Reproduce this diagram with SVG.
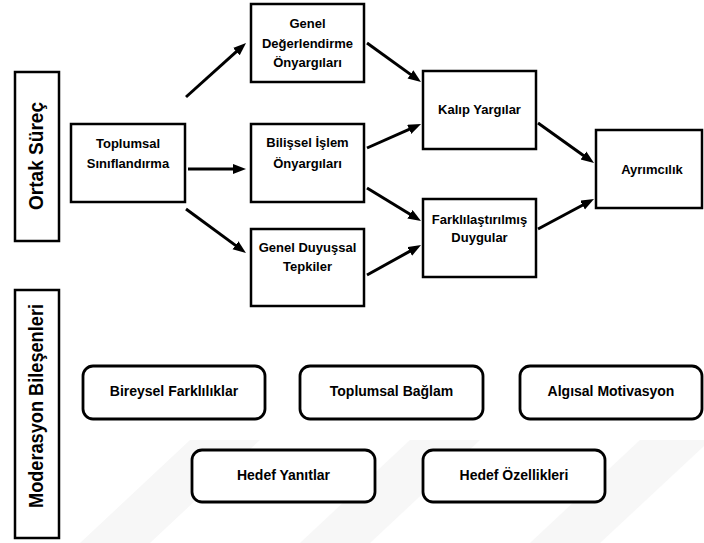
<svg xmlns="http://www.w3.org/2000/svg" width="704" height="543" viewBox="0 0 704 543">
<style>
.box{fill:#fff;stroke:#000;stroke-width:2.5}
.rbox{fill:#fff;stroke:#000;stroke-width:2.8}
.t{font-family:"Liberation Sans",Arial,sans-serif;font-weight:bold;font-size:13px;fill:#000;text-anchor:middle}
.tb{font-family:"Liberation Sans",Arial,sans-serif;font-weight:bold;font-size:14px;fill:#000;text-anchor:middle}
.side{font-family:"Liberation Sans",Arial,sans-serif;font-weight:bold;font-size:21px;fill:#000;text-anchor:middle}
.arr{fill:none;stroke:#000;stroke-width:3;marker-end:url(#ah)}
.wm{fill:#f7f7f7}
</style>
<defs>
<marker id="ah" markerUnits="userSpaceOnUse" markerWidth="13" markerHeight="11" refX="3" refY="5" orient="auto">
<path d="M0,0 L13,5 L0,10 z" fill="#000"/>
</marker>
</defs>
<rect width="704" height="543" fill="#fff"/>
<g id="watermark">
<polygon class="wm" points="80,543 150,543 260,440 190,440"/>
<polygon class="wm" points="300,543 370,543 480,440 410,440"/>
<polygon class="wm" points="530,543 600,543 704,446 704,440 640,440"/>
</g>
<g id="ortak">
<rect class="box" x="15" y="72" width="44" height="169"/>
<text class="side" transform="translate(43,156) rotate(-90)" textLength="108" lengthAdjust="spacingAndGlyphs">Ortak Süreç</text>
</g>
<g id="moderasyon">
<rect class="box" x="15" y="290" width="44" height="248"/>
<text class="side" transform="translate(43,406) rotate(-90)" textLength="204" lengthAdjust="spacingAndGlyphs">Moderasyon Bileşenleri</text>
</g>
<g id="toplumsal">
<rect class="box" x="71" y="124" width="114" height="78"/>
<text class="t" x="128" y="148">Toplumsal</text>
<text class="t" x="128" y="168">Sınıflandırma</text>
</g>
<g id="genel-degerlendirme">
<rect class="box" x="251" y="4" width="113" height="78"/>
<text class="t" x="307.5" y="28">Genel</text>
<text class="t" x="307.5" y="48">Değerlendirme</text>
<text class="t" x="307.5" y="67">Önyargıları</text>
</g>
<g id="bilissel">
<rect class="box" x="251" y="124" width="113" height="78"/>
<text class="t" x="307.5" y="147">Bilişsel İşlem</text>
<text class="t" x="307.5" y="168">Önyargıları</text>
</g>
<g id="genel-duyussal">
<rect class="box" x="251" y="229" width="113" height="77"/>
<text class="t" x="307.5" y="252">Genel Duyuşsal</text>
<text class="t" x="307.5" y="271">Tepkiler</text>
</g>
<g id="kalip">
<rect class="box" x="423" y="71" width="113" height="78"/>
<text class="t" x="479.5" y="114">Kalıp Yargılar</text>
</g>
<g id="farklilastirilmis">
<rect class="box" x="423" y="199" width="113" height="78"/>
<text class="t" x="479.5" y="224">Farklılaştırılmış</text>
<text class="t" x="479.5" y="242">Duygular</text>
</g>
<g id="ayrimcilik">
<rect class="box" x="596" y="130" width="106" height="78"/>
<text class="t" x="652" y="174">Ayrımcılık</text>
</g>
<g id="bireysel">
<rect class="rbox" x="83" y="366" width="182" height="53" rx="10"/>
<text class="tb" x="174" y="396">Bireysel Farklılıklar</text>
</g>
<g id="toplumsal-baglam">
<rect class="rbox" x="300" y="366" width="183" height="53" rx="10"/>
<text class="tb" x="391.5" y="396">Toplumsal Bağlam</text>
</g>
<g id="algisal">
<rect class="rbox" x="520" y="366" width="182" height="53" rx="10"/>
<text class="tb" x="611" y="396">Algısal Motivasyon</text>
</g>
<g id="hedef-yanitlar">
<rect class="rbox" x="192" y="450" width="183" height="52" rx="10"/>
<text class="tb" x="283.5" y="480">Hedef Yanıtlar</text>
</g>
<g id="hedef-ozellikleri">
<rect class="rbox" x="423" y="450" width="182" height="52" rx="10"/>
<text class="tb" x="514" y="480">Hedef Özellikleri</text>
</g>
<g id="connectors">
<path class="arr" d="M186,97 L238.6,49.6"/>
<path class="arr" d="M188,169 L236,169"/>
<path class="arr" d="M186,209 L237.9,247.1"/>
<path class="arr" d="M367,43 L412.9,76.1"/>
<path class="arr" d="M367,148 L411.9,128.1"/>
<path class="arr" d="M367,188 L412.5,215.8"/>
<path class="arr" d="M367,275 L412.3,249.9"/>
<path class="arr" d="M538,123 L585.9,157.2"/>
<path class="arr" d="M538,229 L585.2,203.7"/>
</g>
</svg>
